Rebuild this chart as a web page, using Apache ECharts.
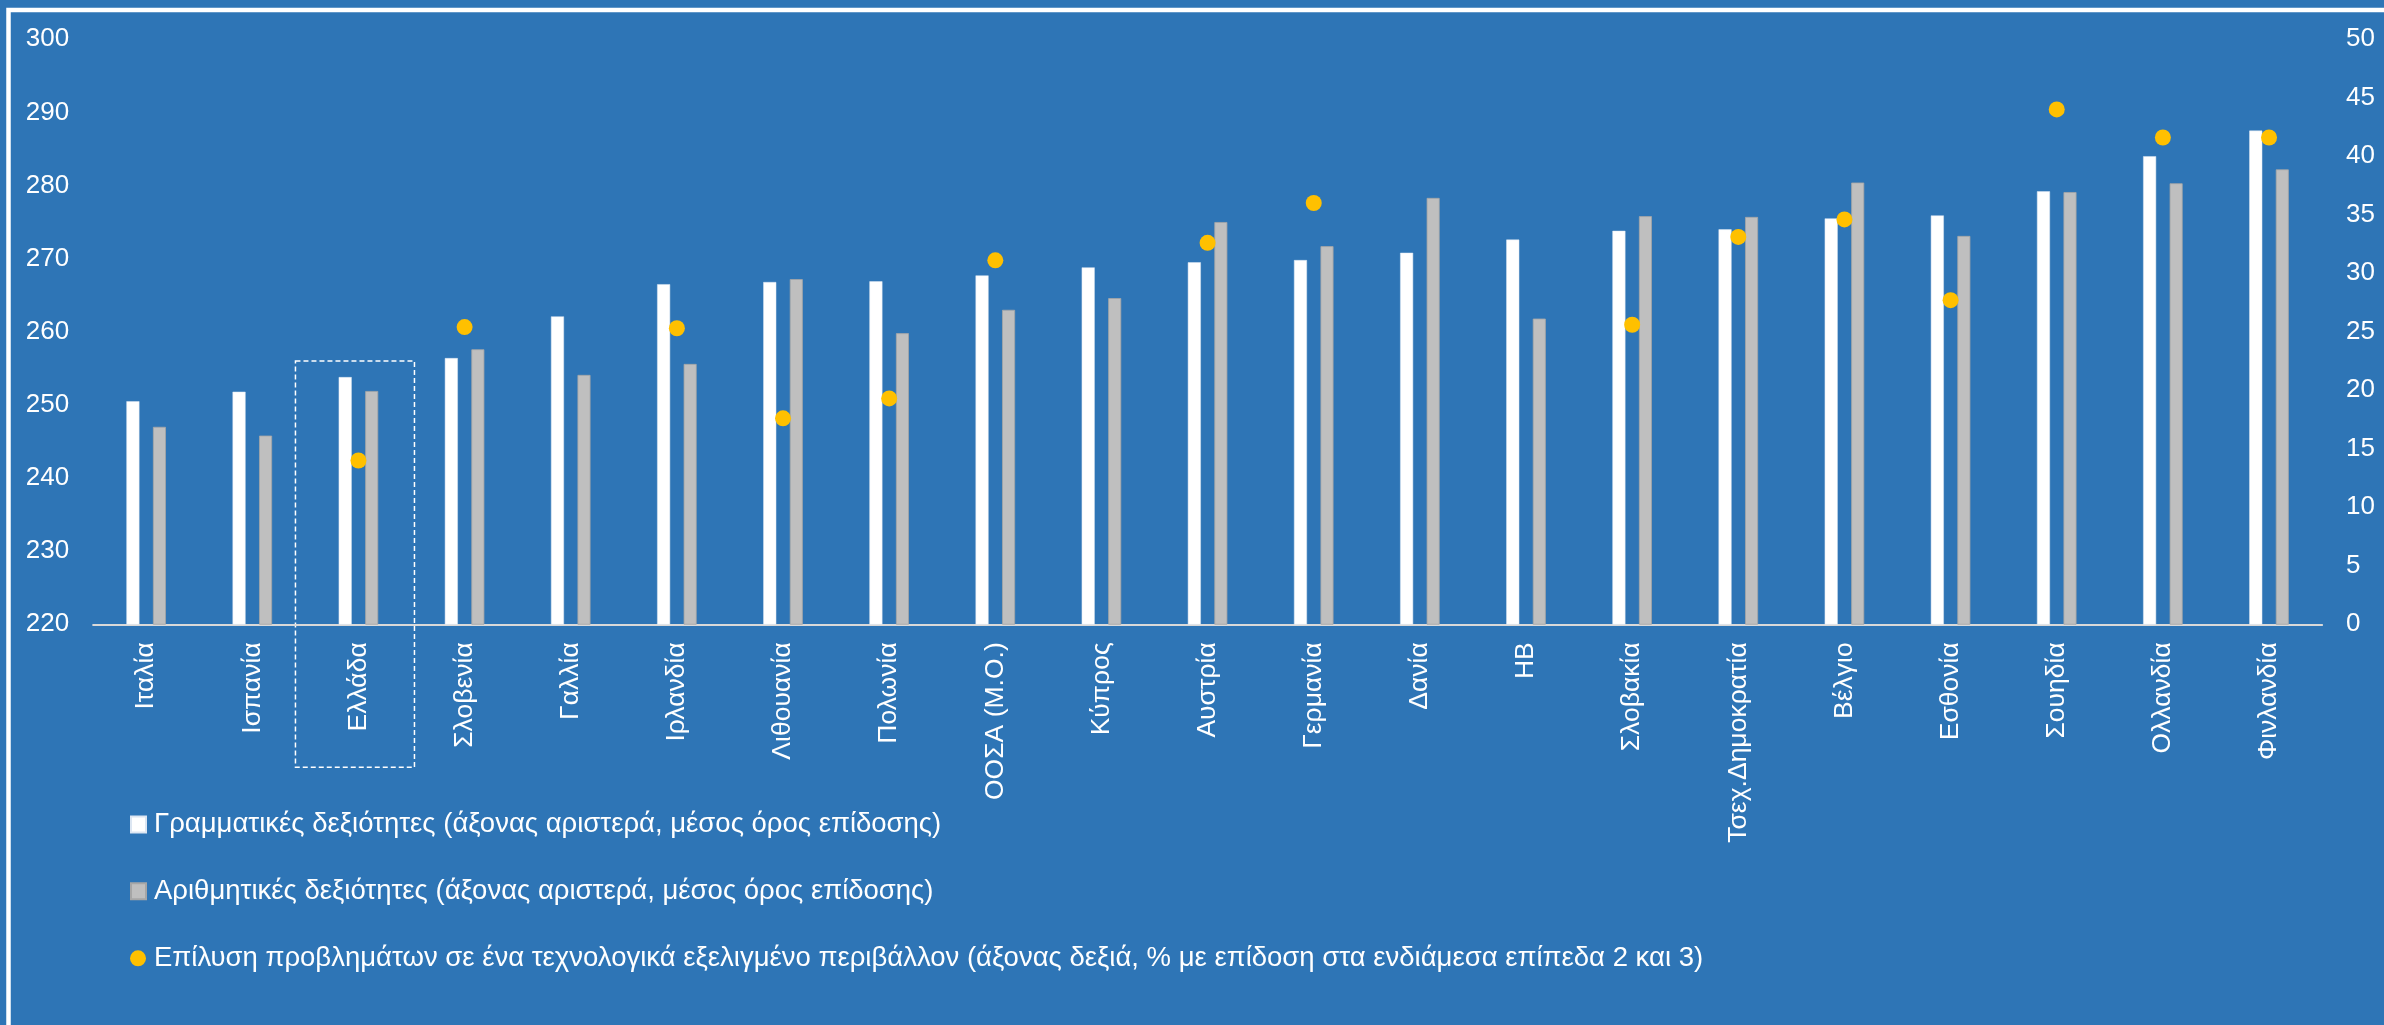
<!DOCTYPE html>
<html>
<head>
<meta charset="utf-8">
<script src="https://cdn.jsdelivr.net/npm/echarts@6/dist/echarts.min.js"></script>
<style>
html,body{margin:0;padding:0;background:#2E75B6;}
#c{width:2384px;height:1025px;}
</style>
</head>
<body>
<div id="c"></div>
<script>
const categories = ['Ιταλία','Ισπανία','Ελλάδα','Σλοβενία','Γαλλία','Ιρλανδία','Λιθουανία','Πολωνία','ΟΟΣΑ (Μ.Ο.)','Κύπρος','Αυστρία','Γερμανία','Δανία','ΗΒ','Σλοβακία','Τσεχ.Δημοκρατία','Βέλγιο','Εσθονία','Σουηδία','Ολλανδία','Φινλανδία'];
const literacy = [250.5,251.8,253.8,256.4,262.1,266.5,266.8,266.9,267.7,268.8,269.5,269.8,270.8,272.6,273.8,274.0,275.5,275.9,279.2,284.0,287.5];
const numeracy = [247.0,245.8,251.9,257.6,254.1,255.6,267.2,259.8,263.0,264.6,275.0,271.7,278.3,261.8,275.8,275.7,280.4,273.1,279.1,280.3,282.2];
const problemSolving = [null,null,14.0,25.4,null,25.3,17.6,19.3,31.1,null,32.6,36.0,null,null,25.6,33.1,34.6,27.7,44.0,41.6,41.6];
const leftTicks = {min:220, max:300, interval:10};
const rightTicks = {min:0, max:50, interval:5};
const names = [
  'Γραμματικές δεξιότητες (άξονας αριστερά, μέσος όρος επίδοσης)',
  'Αριθμητικές δεξιότητες (άξονας αριστερά, μέσος όρος επίδοσης)',
  'Επίλυση προβλημάτων σε ένα τεχνολογικά εξελιγμένο περιβάλλον (άξονας δεξιά, % με επίδοση στα ενδιάμεσα επίπεδα 2 και 3)'
];
const highlighted = 'Ελλάδα';

const FONT = "'Liberation Sans', Arial, sans-serif";
const chart = echarts.init(document.getElementById('c'), null, {renderer:'canvas'});

function legendAt(name, top, icon, w, h){
  return {
    data:[{name:name, icon:icon}],
    left:130, top:top, padding:0,
    itemWidth:w, itemHeight:h,
    selectedMode:false,
    textStyle:{color:'#FFFFFF', fontFamily:FONT, fontSize:27.5, lineHeight:26, padding:[0,0,0,3]}
  };
}

chart.setOption({
  backgroundColor:'#2E75B6',
  animation:false,
  grid:{left:93.1, right:61.9, top:39.2, bottom:400.7, containLabel:false},
  legend:[
    legendAt(names[0], 810.5, 'rect', 15, 16),
    legendAt(names[1], 877.2, 'rect', 15, 16),
    legendAt(names[2], 944.3, 'circle', 16, 16)
  ],
  xAxis:{
    type:'category', data:categories, boundaryGap:true,
    axisLine:{show:true, lineStyle:{color:'#D9D9D9', width:2}},
    axisTick:{show:false},
    axisLabel:{interval:0, rotate:90, margin:18, color:'#FFFFFF', fontFamily:FONT, fontSize:26.5}
  },
  yAxis:[
    {type:'value', min:leftTicks.min, max:leftTicks.max, interval:leftTicks.interval,
     axisLine:{show:false}, axisTick:{show:false}, splitLine:{show:false},
     axisLabel:{color:'#FFFFFF', fontFamily:FONT, fontSize:26, margin:24}},
    {type:'value', position:'right', min:rightTicks.min, max:rightTicks.max, interval:rightTicks.interval,
     axisLine:{show:false}, axisTick:{show:false}, splitLine:{show:false},
     axisLabel:{color:'#FFFFFF', fontFamily:FONT, fontSize:26, margin:24}}
  ],
  series:[
    {name:names[0], type:'bar', data:literacy, barWidth:13, barGap:'104%',
     itemStyle:{color:'#FFFFFF', borderColor:'#DCE6F2', borderWidth:0.5}},
    {name:names[1], type:'bar', data:numeracy, barWidth:13, barGap:'104%',
     itemStyle:{color:'#BFBFBF', borderColor:'#A6A6A6', borderWidth:0.8}},
    {name:names[2], type:'scatter', yAxisIndex:1, data:problemSolving, symbol:'circle', symbolSize:16,
     itemStyle:{color:'#FFC000', opacity:1}}
  ]
});

// annotation: dashed box around the highlighted category
const cx = chart.convertToPixel({xAxisIndex:0}, highlighted);
const yTop = chart.convertToPixel({yAxisIndex:0}, 256.0);
const yBase = chart.convertToPixel({yAxisIndex:0}, leftTicks.min);
chart.setOption({
  graphic:[
    {type:'rect', silent:true, shape:{x:cx-63, y:yTop, width:119, height:(yBase+143)-yTop},
     style:{fill:'none', stroke:'#FFFFFF', lineWidth:1.5, lineDash:[5,3]}},
    {type:'polyline', silent:true, shape:{points:[[8.5,1100],[8.5,10],[2400,10]]},
     style:{fill:'none', stroke:'#FFFFFF', lineWidth:4.5}}
  ]
});
</script>
</body>
</html>
